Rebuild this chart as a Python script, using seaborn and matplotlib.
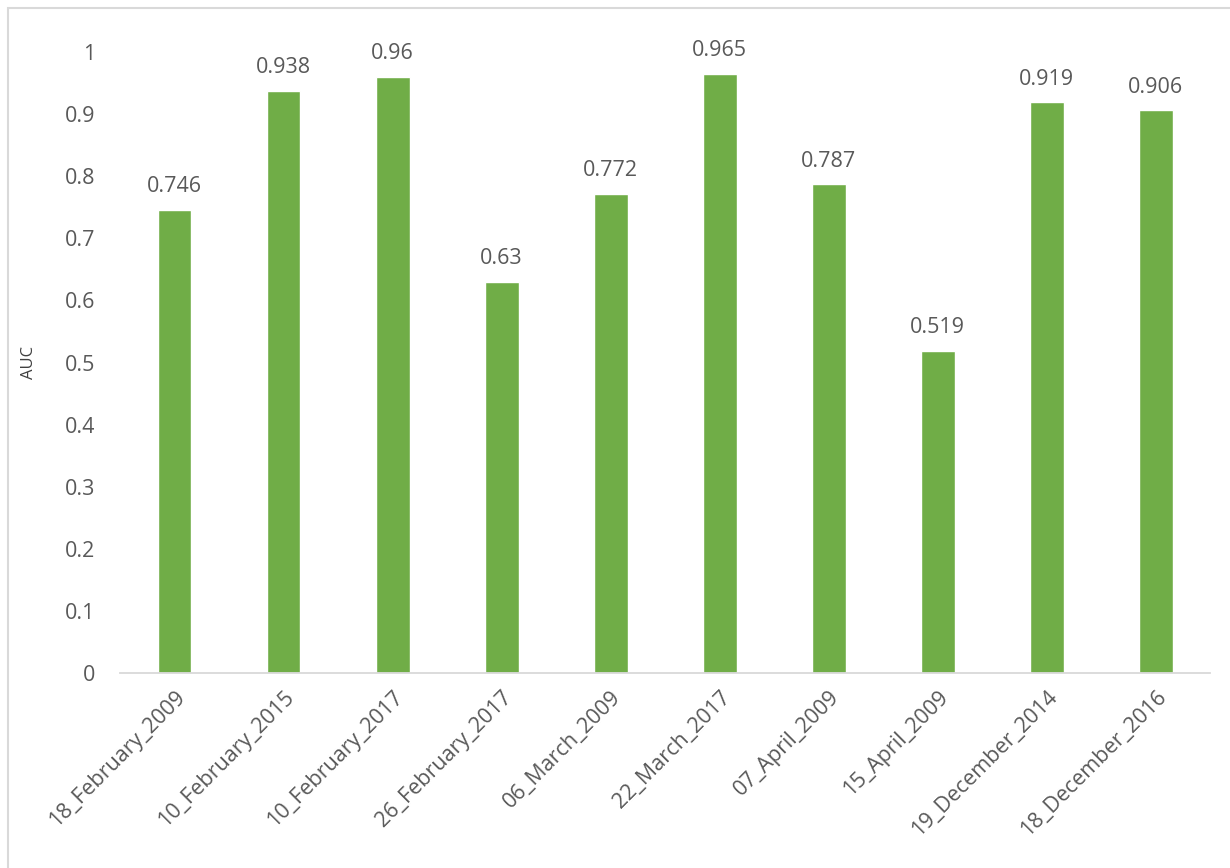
import matplotlib
matplotlib.use("Agg")
import matplotlib.pyplot as plt
import seaborn as sns
import pandas as pd
from matplotlib.patches import Rectangle

dates = ["18_February_2009", "10_February_2015", "10_February_2017",
         "26_February_2017", "06_March_2009", "22_March_2017",
         "07_April_2009", "15_April_2009", "19_December_2014",
         "18_December_2016"]
auc = [0.746, 0.938, 0.96, 0.63, 0.772, 0.965, 0.787, 0.519, 0.919, 0.906]
yticks = [0, 0.1, 0.2, 0.3, 0.4, 0.5, 0.6, 0.7, 0.8, 0.9, 1]
ytick_labels = ["0", "0.1", "0.2", "0.3", "0.4", "0.5", "0.6", "0.7", "0.8", "0.9", "1"]

sns.set_style("white")
plt.rcParams["font.family"] = ["Open Sans", "DejaVu Sans"]

df = pd.DataFrame({"date": dates, "AUC": auc})

fig = plt.figure(figsize=(12.3, 8.68), dpi=100)
ax = fig.add_axes([0.0976, 0.2247, 0.8864, 0.7153])

sns.barplot(data=df, x="date", y="AUC", color="#70AD47", saturation=1,
            width=0.31, ax=ax)

text_col = "#595959"
for i, v in enumerate(auc):
    ax.text(i, v + 0.02, f"{v:g}", ha="center", va="bottom",
            fontsize=15.5, color=text_col)

ax.set_ylim(0, 1)
ax.set_xlim(-0.5, len(dates) - 0.5)
ax.set_yticks(yticks)
ax.set_yticklabels(ytick_labels, fontsize=15.5, color=text_col)
ax.set_xticks(range(len(dates)))
ax.set_xticklabels(dates, rotation=45, ha="right", rotation_mode="anchor",
                   fontsize=15.5, color=text_col)
ax.tick_params(axis="y", length=0, pad=18)
ax.tick_params(axis="x", length=0, pad=10)
ax.set_xlabel("")
ax.set_ylabel("AUC", fontsize=12, color="#404040")
ax.yaxis.set_label_coords(-0.076, 0.5)

for side in ["top", "right", "left"]:
    ax.spines[side].set_visible(False)
ax.spines["bottom"].set_color("#d9d9d9")
ax.spines["bottom"].set_linewidth(1.3)

# chart frame
fig.patches.append(Rectangle((8 / 1230, -0.01), 1.2, 1 - 8 / 868 + 0.01,
                             transform=fig.transFigure, fill=False,
                             edgecolor="#d9d9d9", linewidth=1.5))

fig.savefig("out.png", dpi=100)
